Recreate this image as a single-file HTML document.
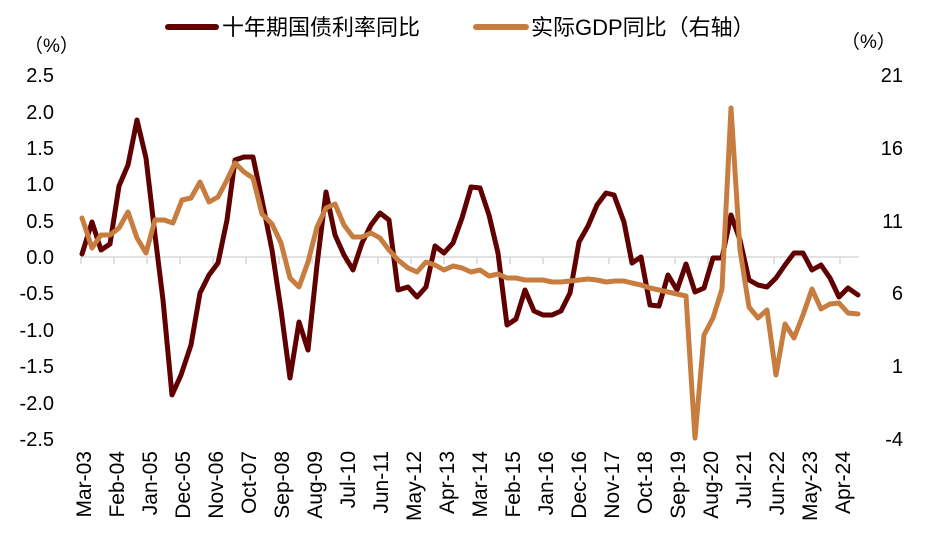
<!DOCTYPE html>
<html><head><meta charset="utf-8"><style>
html,body{margin:0;padding:0;background:#fff;}
svg{display:block;font-family:"Liberation Sans","Noto Sans CJK SC",sans-serif;}
</style></head><body>
<svg width="926" height="548" viewBox="0 0 926 548" xmlns="http://www.w3.org/2000/svg">
<!-- legend -->
<line x1="168" y1="27" x2="216" y2="27" stroke="#600000" stroke-width="6" stroke-linecap="round"/>
<text x="222" y="35" font-size="22" fill="#000">十年期国债利率同比</text>
<line x1="476" y1="27" x2="526" y2="27" stroke="#C87D40" stroke-width="6" stroke-linecap="round"/>
<text x="531" y="35" font-size="22" fill="#000">实际GDP同比（右轴）</text>
<!-- unit labels -->
<text x="24" y="52" font-size="19">（%）</text>
<text x="841" y="48" font-size="19">（%）</text>
<!-- left axis -->
<g font-size="20" text-anchor="end" fill="#000">
<text x="54" y="82">2.5</text>
<text x="54" y="119">2.0</text>
<text x="54" y="155">1.5</text>
<text x="54" y="191">1.0</text>
<text x="54" y="228">0.5</text>
<text x="54" y="264">0.0</text>
<text x="54" y="300">-0.5</text>
<text x="54" y="337">-1.0</text>
<text x="54" y="373">-1.5</text>
<text x="54" y="410">-2.0</text>
<text x="54" y="446">-2.5</text>
</g>
<g font-size="20" text-anchor="end" fill="#000">
<text x="903" y="82">21</text>
<text x="903" y="155">16</text>
<text x="903" y="228">11</text>
<text x="903" y="300">6</text>
<text x="903" y="373">1</text>
<text x="903" y="446">-4</text>
</g>
<!-- zero line -->
<line x1="81" y1="257" x2="859" y2="257" stroke="#d9d9d9" stroke-width="1.5"/>
<g stroke="#d9d9d9" stroke-width="1.5">
<line x1="81" y1="257" x2="81" y2="264"/><line x1="114" y1="257" x2="114" y2="264"/><line x1="147" y1="257" x2="147" y2="264"/><line x1="180" y1="257" x2="180" y2="264"/><line x1="213" y1="257" x2="213" y2="264"/><line x1="246" y1="257" x2="246" y2="264"/><line x1="279" y1="257" x2="279" y2="264"/><line x1="312" y1="257" x2="312" y2="264"/><line x1="345" y1="257" x2="345" y2="264"/><line x1="378" y1="257" x2="378" y2="264"/><line x1="411" y1="257" x2="411" y2="264"/><line x1="444" y1="257" x2="444" y2="264"/><line x1="477" y1="257" x2="477" y2="264"/><line x1="510" y1="257" x2="510" y2="264"/><line x1="543" y1="257" x2="543" y2="264"/><line x1="576" y1="257" x2="576" y2="264"/><line x1="609" y1="257" x2="609" y2="264"/><line x1="642" y1="257" x2="642" y2="264"/><line x1="675" y1="257" x2="675" y2="264"/><line x1="708" y1="257" x2="708" y2="264"/><line x1="741" y1="257" x2="741" y2="264"/><line x1="774" y1="257" x2="774" y2="264"/><line x1="807" y1="257" x2="807" y2="264"/><line x1="840" y1="257" x2="840" y2="264"/>
</g>
<!-- x labels -->
<g font-size="21" text-anchor="end" fill="#000">
<text transform="translate(91,451) rotate(-90)">Mar-03</text>
<text transform="translate(124,451) rotate(-90)">Feb-04</text>
<text transform="translate(157,451) rotate(-90)">Jan-05</text>
<text transform="translate(190,451) rotate(-90)">Dec-05</text>
<text transform="translate(223,451) rotate(-90)">Nov-06</text>
<text transform="translate(256,451) rotate(-90)">Oct-07</text>
<text transform="translate(289,451) rotate(-90)">Sep-08</text>
<text transform="translate(322,451) rotate(-90)">Aug-09</text>
<text transform="translate(355,451) rotate(-90)">Jul-10</text>
<text transform="translate(388,451) rotate(-90)">Jun-11</text>
<text transform="translate(421,451) rotate(-90)">May-12</text>
<text transform="translate(454,451) rotate(-90)">Apr-13</text>
<text transform="translate(487,451) rotate(-90)">Mar-14</text>
<text transform="translate(520,451) rotate(-90)">Feb-15</text>
<text transform="translate(553,451) rotate(-90)">Jan-16</text>
<text transform="translate(586,451) rotate(-90)">Dec-16</text>
<text transform="translate(619,451) rotate(-90)">Nov-17</text>
<text transform="translate(652,451) rotate(-90)">Oct-18</text>
<text transform="translate(685,451) rotate(-90)">Sep-19</text>
<text transform="translate(718,451) rotate(-90)">Aug-20</text>
<text transform="translate(751,451) rotate(-90)">Jul-21</text>
<text transform="translate(784,451) rotate(-90)">Jun-22</text>
<text transform="translate(817,451) rotate(-90)">May-23</text>
<text transform="translate(850,451) rotate(-90)">Apr-24</text>
</g>
<!-- dark series -->
<polyline fill="none" stroke="#600000" stroke-width="5" stroke-linejoin="round" stroke-linecap="round" points="82,254 92,222 101,250 110,244 119,186 128,165 137,120 146,158 155,235 163,300 172,395 181,375 191,345 200,293 209,275 218,263 227,220 235,160 244,157 253,157 262,200 272,250 281,310 290,378 299,322 308,350 317,265 326,192 335,235 344,255 353,270 362,243 371,225 380,213 389,220 398,290 408,287 417,297 426,287 435,246 444,253 453,243 462,218 471,187 480,188 489,215 498,253 507,325 516,319 525,290 534,311 543,315 552,315 561,311 570,293 579,242 588,226 597,205 606,193 614,195 624,222 632,263 641,257 650,305 659,306 668,275 677,290 686,264 695,292 704,288 713,258 722,258 731,215 740,240 749,280 758,285 767,287 776,278 785,265 794,253 803,253 812,270 821,265 830,278 839,297 848,288 858,295"/>
<!-- orange series -->
<polyline fill="none" stroke="#C87D40" stroke-width="5" stroke-linejoin="round" stroke-linecap="round" points="82,218 92,248 101,235 110,235 119,228 128,212 137,238 146,253 155,220 164,220 173,223 182,200 191,198 200,182 209,202 218,197 227,180 235,163 244,172 253,178 262,214 272,224 281,243 290,278 299,287 308,262 317,227 326,208 335,204 344,225 353,237 362,237 371,233 380,238 389,250 398,260 408,268 417,272 426,262 435,265 444,270 453,266 462,268 471,272 480,270 489,276 498,274 507,278 516,278 525,280 534,280 543,280 552,282 561,282 570,281 579,280 588,279 597,280 606,282 615,281 624,281 632,283 641,285 650,288 659,290 668,292 677,294 686,296 695,438 704,335 713,318 722,289 731,108 740,250 749,307 758,318 767,310 776,375 785,324 794,338 803,315 812,289 821,309 830,304 839,303 848,313 858,314"/>
</svg>
</body></html>
